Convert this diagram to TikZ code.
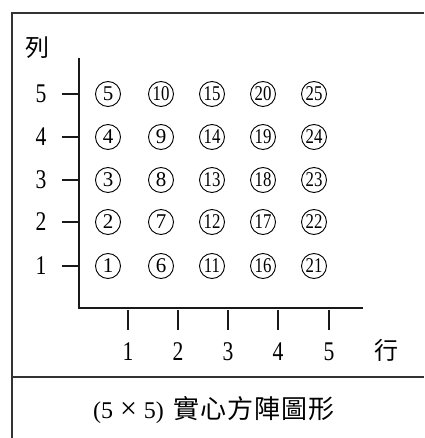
\documentclass[tikz,border=0pt]{standalone}
\usepackage{fontspec}
\setmainfont{Liberation Serif}
\newfontfamily\cjk{Noto Sans CJK TC}
\begin{document}
\begin{tikzpicture}[x=1pt,y=-1pt,
  frame/.style={line width=2.2pt,draw=black!80},
  axis/.style={line width=1.4pt,draw=black!90},
  tick/.style={line width=1.2pt,draw=black!90},
  lab/.style={font=\fontsize{27}{27}\selectfont,xscale=0.8,inner sep=0pt},
  cjklab/.style={font=\cjk\fontsize{24}{24}\selectfont,inner sep=0pt},
  cnum/.style={circle,draw,line width=0.9pt,minimum size=25pt,inner sep=0pt,
    font=\fontsize{21}{21}\selectfont}]
\useasboundingbox (0,0) rectangle (424,438);
% frame
\draw[frame] (424,13) -- (12,13) -- (12,438);
\draw[frame] (12,377) -- (424,377);
% axes
\coordinate (ytop) at (79,58);
\coordinate (orig) at (79,308);
\coordinate (xend) at (363,308);
\draw[axis] (ytop) -- (orig) -- (xend);
\node[cjklab] (lie) at (37,48) {列};
\node[cjklab] (hang) at (386,350) {行};
% y ticks and labels
\foreach \r/\y in {1/266,2/222,3/180,4/137,5/94}{
  \coordinate (yt\r) at (62,\y);
  \coordinate (ya\r) at (79,\y);
  \draw[tick] (yt\r) -- (ya\r);
  \node[lab] (yl\r) at (41,\y) {\r};
}
% x ticks and labels
\foreach \c/\x in {1/128,2/178,3/228,4/278,5/329}{
  \coordinate (xt\c) at (\x,310);
  \coordinate (xb\c) at (\x,330);
  \draw[tick] (xt\c) -- (xb\c);
  \node[lab] (xl\c) at (\x,352) {\c};
}
% circled numbers
\foreach \c/\x in {1/108,2/161,3/212,4/263,5/314}{
  \foreach \r/\y in {1/266,2/222,3/180,4/137,5/94}{
    \pgfmathtruncatemacro{\n}{(\c-1)*5+\r}
    \ifnum\n<10
      \node[cnum] (c\c\r) at (\x,\y) {\n};
    \else
      \node[cnum] (c\c\r) at (\x,\y) {\scalebox{0.8}[1]{\n}};
    \fi
  }
}
% caption
\node[inner sep=0pt,font=\fontsize{24}{24}\selectfont] (cap) at (214,410)
  {(5\hspace{7pt}{\fontsize{30}{30}\selectfont ×}\hspace{7pt}5)\hspace{10pt}{\cjk\fontsize{26}{26}\selectfont 實\hspace{1pt}心\hspace{1pt}方\hspace{1pt}陣\hspace{1pt}圖\hspace{1pt}形}};
\end{tikzpicture}
\end{document}
